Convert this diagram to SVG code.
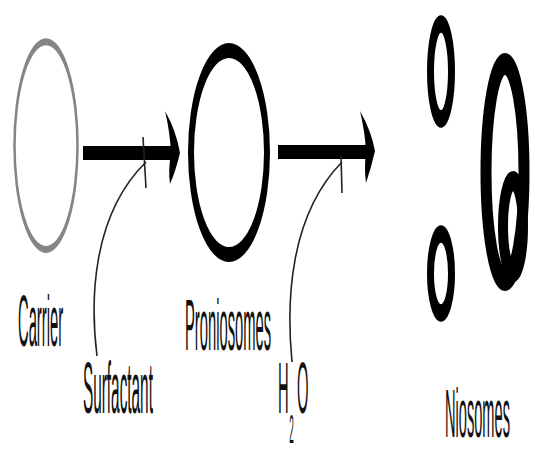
<svg xmlns="http://www.w3.org/2000/svg" width="535" height="450" viewBox="0 0 535 450">
<style>
  .lbl { font-family: "Liberation Sans", Arial, sans-serif; font-size: 72px; fill: #111; }
  .bar { stroke: #000; stroke-width: 14; fill: none; }
  .head { fill: #000; }
  .thin { stroke: #222; stroke-width: 1.6; fill: none; }
  .ves { fill: none; stroke: #000; }
</style>
<rect width="535" height="450" fill="#fff"/>

<g id="carrier">
  <g transform="scale(1,2.8)">
    <ellipse cx="46" cy="52" rx="31.5" ry="37.1" fill="none" stroke="#858585" stroke-width="2.5"/>
  </g>
  <text class="lbl" transform="translate(18,346) scale(0.205,1)">Carrier</text>
</g>

<g id="proniosomes">
  <g transform="scale(1,2.5)">
    <ellipse class="ves" cx="229" cy="61" rx="38" ry="40.8" stroke-width="6"/>
  </g>
  <text class="lbl" transform="translate(185,350) scale(0.205,1)">Proniosomes</text>
</g>

<g id="niosomes">
  <g transform="scale(1,2.5)">
    <ellipse class="ves" cx="441" cy="28.6" rx="10.5" ry="19" stroke-width="7"/>
    <ellipse class="ves" cx="441" cy="109.4" rx="10.5" ry="15.8" stroke-width="7"/>
  </g>
  <g transform="scale(1,2)">
    <ellipse class="ves" cx="505" cy="86" rx="19" ry="54" stroke-width="11"/>
    <ellipse class="ves" cx="513" cy="113.3" rx="10" ry="22.8" stroke-width="10"/>
  </g>
  <text class="lbl" style="font-size:68px" transform="translate(445,437) scale(0.215,1)">Niosomes</text>
</g>

<g id="surfactant">
  <text class="lbl" transform="translate(83,413) scale(0.213,1)">Surfactant</text>
</g>

<g id="water">
  <text class="lbl" transform="translate(278,413) scale(0.205,1)"><tspan x="0" y="0">H</tspan><tspan x="55" y="30" font-size="40">2</tspan><tspan x="93" y="0">O</tspan></text>
</g>

<g id="connectors">
  <line class="bar" x1="83" y1="153" x2="174" y2="153"/>
  <path class="head" d="M165 111 Q176 130 180 153 Q176 170 170 184 Q168 170 171 153 Q170 132 165 111 Z"/>
  <line class="bar" x1="278" y1="152" x2="369" y2="152"/>
  <path class="head" d="M360 111 Q371 130 375 151 Q371 168 366 183 Q364 168 366 151 Q365 132 360 111 Z"/>

  <path class="thin" d="M97 356 C90 300 92 215 146 162"/>
  <path class="thin" d="M143 137 L146 188"/>
  <path class="thin" d="M292 362 C286 300 290 215 342 162"/>
  <path class="thin" d="M341 156 L342 193"/>
</g>
</svg>
